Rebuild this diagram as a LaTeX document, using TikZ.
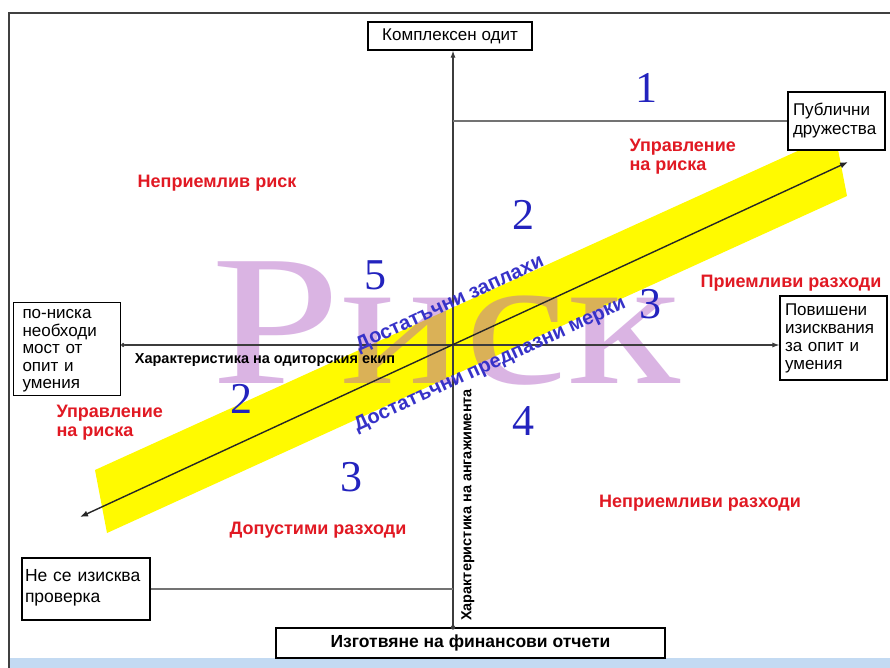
\documentclass[tikz,border=0pt]{standalone}
\usepackage{fontspec}
\setmainfont{Liberation Sans}
\newfontfamily\serfont{Liberation Serif}
\usetikzlibrary{arrows.meta}
\definecolor{rred}{RGB}{225,25,35}
\definecolor{nblue}{RGB}{35,35,190}
\definecolor{tblue}{RGB}{55,50,200}
\definecolor{band}{RGB}{255,250,0}
\definecolor{riskc}{RGB}{175,90,195}
\definecolor{axisc}{RGB}{60,60,60}
\definecolor{footc}{RGB}{195,218,242}
\tikzset{
  boxst/.style={draw=black, line width=1.2pt, fill=white, inner sep=0pt},
  numst/.style={text=nblue, font=\serfont\fontsize{44}{44}\selectfont},
  redst/.style={text=rred, font=\bfseries\fontsize{18}{18.5}\selectfont, align=left},
  bandtext/.style={text=tblue, font=\bfseries\fontsize{20}{20}\selectfont, rotate=24.6},
  axlab/.style={font=\bfseries\fontsize{14.5}{15}\selectfont},
  axis/.style={draw=axisc, line width=1.1pt},
  guide/.style={draw=black!55, line width=1.6pt}
}
\begin{document}
\begin{tikzpicture}[x=1pt,y=-1pt]
\useasboundingbox (0,0) rectangle (890,668);
% frame and footer
\fill[white] (0,0) rectangle (890,668);
\fill[footc] (9,658) rectangle (890,668);
\draw[black!75, line width=1.5pt] (9,668) -- (9,13) -- (890,13);

% yellow band
\fill[band] (95,470) -- (107,533) -- (847,196) -- (835,134) -- cycle;

% big word
\node[text=riskc, text opacity=0.45, font=\serfont\fontsize{186}{190}\selectfont, anchor=base, xscale=1.25, inner sep=0pt] (risk) at (446,383) {Риск};

% boxes
\node[boxst, minimum width=164pt, minimum height=28pt, font=\fontsize{17}{18}\selectfont] (top) at (450,36) {Комплексен одит};
\node[boxst, text width=87pt, inner xsep=5pt, minimum height=58pt, align=left, font=\fontsize{17}{19}\selectfont] (pub) at (836.5,121) {Публични\\дружества};
\node[boxst, text width=89pt, inner xsep=9pt, inner ysep=3pt, text height=13pt, text depth=74pt, align=left, font=\fontsize{17}{17.5}\selectfont] (lo) at (67,349) {по-ниска\\необходи\\мост от\\опит и\\умения};
\node[boxst, text width=97pt, inner xsep=5pt, inner ysep=6pt, text height=13pt, text depth=59pt, align=left, font=\fontsize{17}{18}\selectfont] (hi) at (833.5,338) {Повишени\\изисквания\\за опит и\\умения};
\node[boxst, text width=122pt, inner xsep=3pt, inner ysep=10pt, text height=13pt, text depth=29pt, align=left, font=\fontsize{17.5}{21}\selectfont] (nc) at (86,589) {Не се изисква\\проверка};
\node[boxst, minimum width=389pt, minimum height=30pt, font=\bfseries\fontsize{17.5}{18}\selectfont] (bot) at (470.5,643) {Изготвяне на финансови отчети};

% axes
\coordinate (O) at (453,345);
\draw[axis, -{Latex[length=7pt,width=5pt]}] (O |- bot.north) -- (O |- top.south);
\fill[axisc] (O |- bot.north) circle (2.2pt);
\draw[axis, {Circle[length=4pt]}-{Latex[length=7pt,width=5pt]}] (lo.east |- O) -- (hi.west |- O);
\draw[guide] (O |- pub.west) -- (pub.west);
\draw[guide] (nc.east) -- (O |- nc.east);

% diagonal
\coordinate (dA) at (80,517);
\coordinate (dB) at (848,162);
\draw[black!85, line width=1.4pt, {Latex[length=8pt,width=6pt]}-{Latex[length=8pt,width=6pt]}] (dA) -- (dB);

% axis labels
\node[axlab] (xl) at (265,360) {Характеристика на одиторския екип};
\node[axlab, rotate=90] (yl) at (468,505) {Характеристика на ангажимента};

% band texts
\node[bandtext] (t1) at (450,304) {Достатъчни заплахи};
\node[bandtext] (t2) at (490,365) {Достатъчни предпазни мерки};

% numbers
\node[numst] (n1) at (646,88) {1};
\node[numst] (n2a) at (523,215) {2};
\node[numst] (n5) at (375,275) {5};
\node[numst] (n3a) at (650,304) {3};
\node[numst] (n2b) at (241,399) {2};
\node[numst] (n4) at (523,421) {4};
\node[numst] (n3b) at (351,477) {3};

% red labels
\node[redst] (r1) at (217,183) {Неприемлив риск};
\node[redst, anchor=north west] (r2) at (626,136) {Управление\\на риска};
\node[redst] (r3) at (791,283) {Приемливи разходи};
\node[redst, anchor=north west] (r4) at (53,402) {Управление\\на риска};
\node[redst] (r5) at (318,530) {Допустими разходи};
\node[redst] (r6) at (700,503) {Неприемливи разходи};
\end{tikzpicture}
\end{document}
